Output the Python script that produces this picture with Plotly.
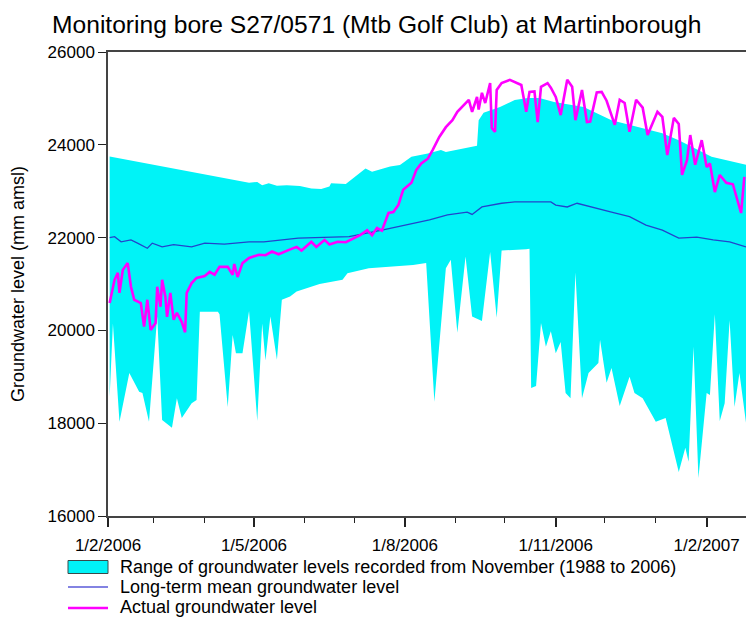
import pandas as pd
import plotly.graph_objects as go

# ---- data (mm amsl) ----
upper_dates = [
    "2006-02-02", "2006-04-28", "2006-05-03", "2006-05-06", "2006-05-10", "2006-05-15",
    "2006-05-21", "2006-05-29", "2006-06-05", "2006-06-11", "2006-06-16", "2006-06-17",
    "2006-06-26", "2006-07-06", "2006-07-08", "2006-07-12", "2006-07-23", "2006-07-29",
    "2006-08-05", "2006-08-15", "2006-08-23", "2006-08-26", "2006-09-14", "2006-09-15",
    "2006-09-18", "2006-09-28", "2006-10-07", "2006-10-15", "2006-10-22", "2006-10-31",
    "2006-11-18", "2006-12-05", "2007-01-05", "2007-01-15", "2007-02-04", "2007-02-25",
]
upper_vals = [
    23750, 23180, 23200, 23130, 23170, 23120,
    23130, 23110, 23060, 23045, 23100, 23170,
    23155, 23420, 23490, 23420, 23530, 23565,
    23745, 23815, 23890, 23845, 23980, 24530,
    24690, 24815, 24965, 25010, 25010, 24920,
    24815, 24530, 24250, 24100, 23740, 23570,
]

lower_dates = [
    "2006-02-02", "2006-02-04", "2006-02-08", "2006-02-14", "2006-02-20", "2006-02-22",
    "2006-02-26", "2006-03-03", "2006-03-06", "2006-03-12", "2006-03-15", "2006-03-18",
    "2006-03-24", "2006-03-27", "2006-03-29", "2006-04-09", "2006-04-10", "2006-04-15",
    "2006-04-18", "2006-04-20", "2006-04-24", "2006-04-28", "2006-05-03", "2006-05-06",
    "2006-05-08", "2006-05-11", "2006-05-15", "2006-05-18", "2006-05-23", "2006-05-27",
    "2006-06-10", "2006-06-24", "2006-06-27", "2006-07-10", "2006-07-24", "2006-08-06",
    "2006-08-14", "2006-08-19", "2006-08-26", "2006-08-29", "2006-09-02", "2006-09-07",
    "2006-09-11", "2006-09-17", "2006-09-22", "2006-09-26", "2006-09-29", "2006-10-14",
    "2006-10-16", "2006-10-17", "2006-10-20", "2006-10-23", "2006-10-26", "2006-10-29",
    "2006-11-01", "2006-11-04", "2006-11-07", "2006-11-10", "2006-11-13", "2006-11-17",
    "2006-11-21", "2006-11-27", "2006-11-28", "2006-12-02", "2006-12-05", "2006-12-10",
    "2006-12-16", "2006-12-19", "2006-12-24", "2007-01-01", "2007-01-07", "2007-01-15",
    "2007-01-19", "2007-01-21", "2007-01-24", "2007-01-27", "2007-02-01", "2007-02-03",
    "2007-02-06", "2007-02-09", "2007-02-12", "2007-02-15", "2007-02-18", "2007-02-21",
    "2007-02-25",
]
lower_vals = [
    18570, 20150, 18030, 19080, 18680, 18650,
    18030, 20300, 18070, 17900, 18540, 18110,
    18430, 18500, 20400, 20400, 20350, 18350,
    19900, 19510, 19510, 20420, 18050, 20150,
    19350, 20300, 19370, 20660, 20730, 20840,
    21000, 21090, 21230, 21340, 21380, 21410,
    21450, 18460, 21340, 21520, 19950, 21590,
    20300, 20200, 21690, 20270, 21720, 21750,
    21760, 18760, 18800, 20160, 19650, 19980,
    19510, 19750, 18650, 18540, 21250, 18540,
    19080, 19300, 19800, 18870, 19190, 18370,
    19000, 18650, 18540, 18030, 18110, 16950,
    17470, 17170, 19650, 16820, 18650, 18610,
    20350, 18050, 18430, 20220, 18350, 19080,
    18010,
]

mean_dates = [
    "2006-02-02", "2006-02-05", "2006-02-09", "2006-02-15", "2006-02-19", "2006-02-25",
    "2006-02-28", "2006-03-06", "2006-03-13", "2006-03-24", "2006-04-01", "2006-04-13",
    "2006-04-28", "2006-05-07", "2006-05-28", "2006-06-28", "2006-07-18", "2006-08-07",
    "2006-08-16", "2006-08-27", "2006-09-08", "2006-09-11", "2006-09-17", "2006-09-29",
    "2006-10-07", "2006-10-17", "2006-10-29", "2006-11-01", "2006-11-08", "2006-11-14",
    "2006-11-26", "2006-12-05", "2006-12-16", "2006-12-26", "2007-01-05", "2007-01-15",
    "2007-01-26", "2007-02-05", "2007-02-15", "2007-02-25",
]
mean_vals = [
    22000, 22020, 21910, 21950, 21880, 21770,
    21880, 21800, 21850, 21800, 21880, 21860,
    21910, 21910, 21990, 22020, 22160, 22310,
    22380, 22490, 22550, 22500, 22660, 22740,
    22770, 22770, 22770, 22700, 22660, 22740,
    22640, 22550, 22450, 22270, 22160, 21990,
    22010, 21950, 21910, 21800,
]

actual_dates = [
    "2006-02-02", "2006-02-05", "2006-02-07", "2006-02-08", "2006-02-10", "2006-02-12",
    "2006-02-13", "2006-02-15", "2006-02-17", "2006-02-21", "2006-02-22", "2006-02-23",
    "2006-02-25", "2006-02-27", "2006-03-02", "2006-03-03", "2006-03-05", "2006-03-06",
    "2006-03-08", "2006-03-09", "2006-03-11", "2006-03-13", "2006-03-15", "2006-03-18",
    "2006-03-20", "2006-03-21", "2006-03-24", "2006-03-27", "2006-04-01", "2006-04-04",
    "2006-04-07", "2006-04-10", "2006-04-15", "2006-04-18", "2006-04-19", "2006-04-21",
    "2006-04-24", "2006-04-28", "2006-05-04", "2006-05-08", "2006-05-12", "2006-05-16",
    "2006-05-22", "2006-05-27", "2006-05-30", "2006-06-05", "2006-06-08", "2006-06-13",
    "2006-06-16", "2006-06-21", "2006-06-26", "2006-07-05", "2006-07-09", "2006-07-12",
    "2006-07-15", "2006-07-18", "2006-07-22", "2006-07-25", "2006-07-28", "2006-07-31",
    "2006-08-05", "2006-08-08", "2006-08-11", "2006-08-15", "2006-08-18", "2006-08-22",
    "2006-08-26", "2006-08-30", "2006-09-02", "2006-09-06", "2006-09-09", "2006-09-11",
    "2006-09-14", "2006-09-15", "2006-09-17", "2006-09-19", "2006-09-22", "2006-09-23",
    "2006-09-25", "2006-09-26", "2006-09-29", "2006-10-04", "2006-10-08", "2006-10-11",
    "2006-10-14", "2006-10-16", "2006-10-19", "2006-10-21", "2006-10-23", "2006-10-27",
    "2006-10-29", "2006-11-01", "2006-11-04", "2006-11-08", "2006-11-11", "2006-11-13",
    "2006-11-17", "2006-11-20", "2006-11-22", "2006-11-26", "2006-11-29", "2006-12-02",
    "2006-12-07", "2006-12-10", "2006-12-13", "2006-12-16", "2006-12-20", "2006-12-24",
    "2006-12-27", "2007-01-02", "2007-01-05", "2007-01-08", "2007-01-12", "2007-01-15",
    "2007-01-17", "2007-01-20", "2007-01-22", "2007-01-25", "2007-01-29", "2007-02-01",
    "2007-02-03", "2007-02-06", "2007-02-09", "2007-02-13", "2007-02-17", "2007-02-20",
    "2007-02-22", "2007-02-24",
]
actual_vals = [
    20590, 21090, 21240, 20810, 21300, 21410,
    21450, 20940, 20660, 20590, 20380, 20080,
    20660, 20010, 20160, 20940, 20510, 21090,
    20720, 20290, 20810, 20230, 20380, 20180,
    19960, 20810, 21020, 21130, 21170, 21260,
    21200, 21370, 21370, 21200, 21430, 21150,
    21450, 21560, 21630, 21620, 21700, 21640,
    21730, 21800, 21720, 21910, 21800, 21950,
    21850, 21910, 21900, 22060, 22160, 22050,
    22210, 22150, 22530, 22550, 22700, 23030,
    23180, 23460, 23600, 23700, 23890, 24170,
    24380, 24530, 24710, 24860, 24970, 24710,
    25030, 24760, 25120, 24900, 25330, 24360,
    24280, 25180, 25330, 25400, 25330, 25290,
    24710, 25140, 25150, 24490, 25250, 25330,
    25230, 25030, 24640, 25400, 25250, 24530,
    25180, 24490, 24500, 25130, 25140, 24950,
    24430, 24970, 24900, 24280, 24970, 24800,
    24210, 24710, 24600, 23780, 24580, 24450,
    23350, 23670, 24210, 23570, 24100, 23520,
    23600, 22980, 23350, 23180, 23150, 22770,
    22530, 23310,
]

legend_labels = [
    "Range of groundwater levels recorded from November (1988 to 2006)",
    "Long-term mean groundwater level",
    "Actual groundwater level",
]

CYAN = "#00f3f7"
BLUE = "#2244cc"
MAGENTA = "#ff00ff"
FONT = "Liberation Sans, Arial, sans-serif"

W, H = 746, 618
L, R, T, B = 108, 0, 52, 102
PW, PH = W - L - R, H - T - B


def px_x(p):
    # pixel column -> paper x
    return (p - L) / PW


def px_y(p):
    # pixel row -> paper y
    return (H - B - p) / PH


# closed polygon: upper edge left->right, lower edge right->left
band_x = pd.to_datetime(upper_dates).tolist() + pd.to_datetime(lower_dates).tolist()[::-1]
band_y = upper_vals + lower_vals[::-1]

fig = go.Figure()
fig.add_trace(go.Scatter(
    x=band_x, y=band_y, mode="lines", fill="toself", fillcolor=CYAN,
    line=dict(width=0, color=CYAN), name=legend_labels[0], hoverinfo="skip",
))
fig.add_trace(go.Scatter(
    x=pd.to_datetime(mean_dates), y=mean_vals, mode="lines",
    line=dict(width=1.3, color=BLUE), name=legend_labels[1],
))
fig.add_trace(go.Scatter(
    x=pd.to_datetime(actual_dates), y=actual_vals, mode="lines",
    line=dict(width=2.6, color=MAGENTA), name=legend_labels[2],
))

# compact legend drawn below the axis, as in the original figure
rows = [567.0, 587.0, 607.0]
shapes = [
    dict(type="rect", xref="paper", yref="paper",
         x0=px_x(68), x1=px_x(108), y0=px_y(rows[0] - 6.5), y1=px_y(rows[0] + 6.5),
         fillcolor=CYAN, line=dict(color="#3a4a4a", width=1)),
    dict(type="line", xref="paper", yref="paper",
         x0=px_x(68), x1=px_x(108), y0=px_y(rows[1]), y1=px_y(rows[1]),
         line=dict(color="#5a5ad8", width=1.5)),
    dict(type="line", xref="paper", yref="paper",
         x0=px_x(68), x1=px_x(108), y0=px_y(rows[2] + 1), y1=px_y(rows[2] + 1),
         line=dict(color=MAGENTA, width=2.5)),
]
annotations = [
    dict(text=lab, xref="paper", yref="paper", x=px_x(119), y=px_y(r),
         xanchor="left", yanchor="middle", showarrow=False, borderpad=0,
         font=dict(family=FONT, size=18, color="black"))
    for lab, r in zip(legend_labels, rows)
]

fig.update_layout(
    width=W, height=H,
    margin=dict(l=L, r=R, t=T, b=B),
    paper_bgcolor="white", plot_bgcolor="white",
    font=dict(family=FONT, size=17, color="black"),
    title=dict(
        text="Monitoring bore S27/0571 (Mtb Golf Club) at Martinborough",
        x=0.505, xref="container", xanchor="center",
        y=1 - 24 / H, yref="container", yanchor="middle",
        font=dict(family=FONT, size=24.6, color="black"),
    ),
    showlegend=False,
    shapes=shapes,
    annotations=annotations,
)

fig.update_xaxes(
    type="date", range=["2006-02-01", "2007-02-25"], automargin=False,
    tick0="2006-02-01", dtick="M3", tickformat="%-d/%-m/%Y",
    ticks="outside", ticklen=9, tickwidth=2, tickcolor="#222",
    ticklabelstandoff=4,
    showline=True, linecolor="#444", linewidth=1.5, mirror=True,
    showgrid=False, zeroline=False,
    minor=dict(dtick="M1", tick0="2006-02-01", ticks="outside", ticklen=5,
               tickwidth=1, tickcolor="#222", showgrid=False),
    tickfont=dict(size=17),
)
fig.update_yaxes(
    range=[16000, 26000], dtick=2000, tickformat="d", automargin=False,
    ticks="outside", ticklen=8, tickwidth=1, tickcolor="#222",
    showline=True, linecolor="#444", linewidth=1.5,
    showgrid=False, zeroline=False,
    title=dict(text="Groundwater level (mm amsl)", font=dict(size=18), standoff=18),
    tickfont=dict(size=17),
)

# page body margin would shift the 746x618 figure inside the window
fig.write_html(
    "out.html",
    config={"displayModeBar": False},
    post_script="document.body.style.margin='0';",
)
